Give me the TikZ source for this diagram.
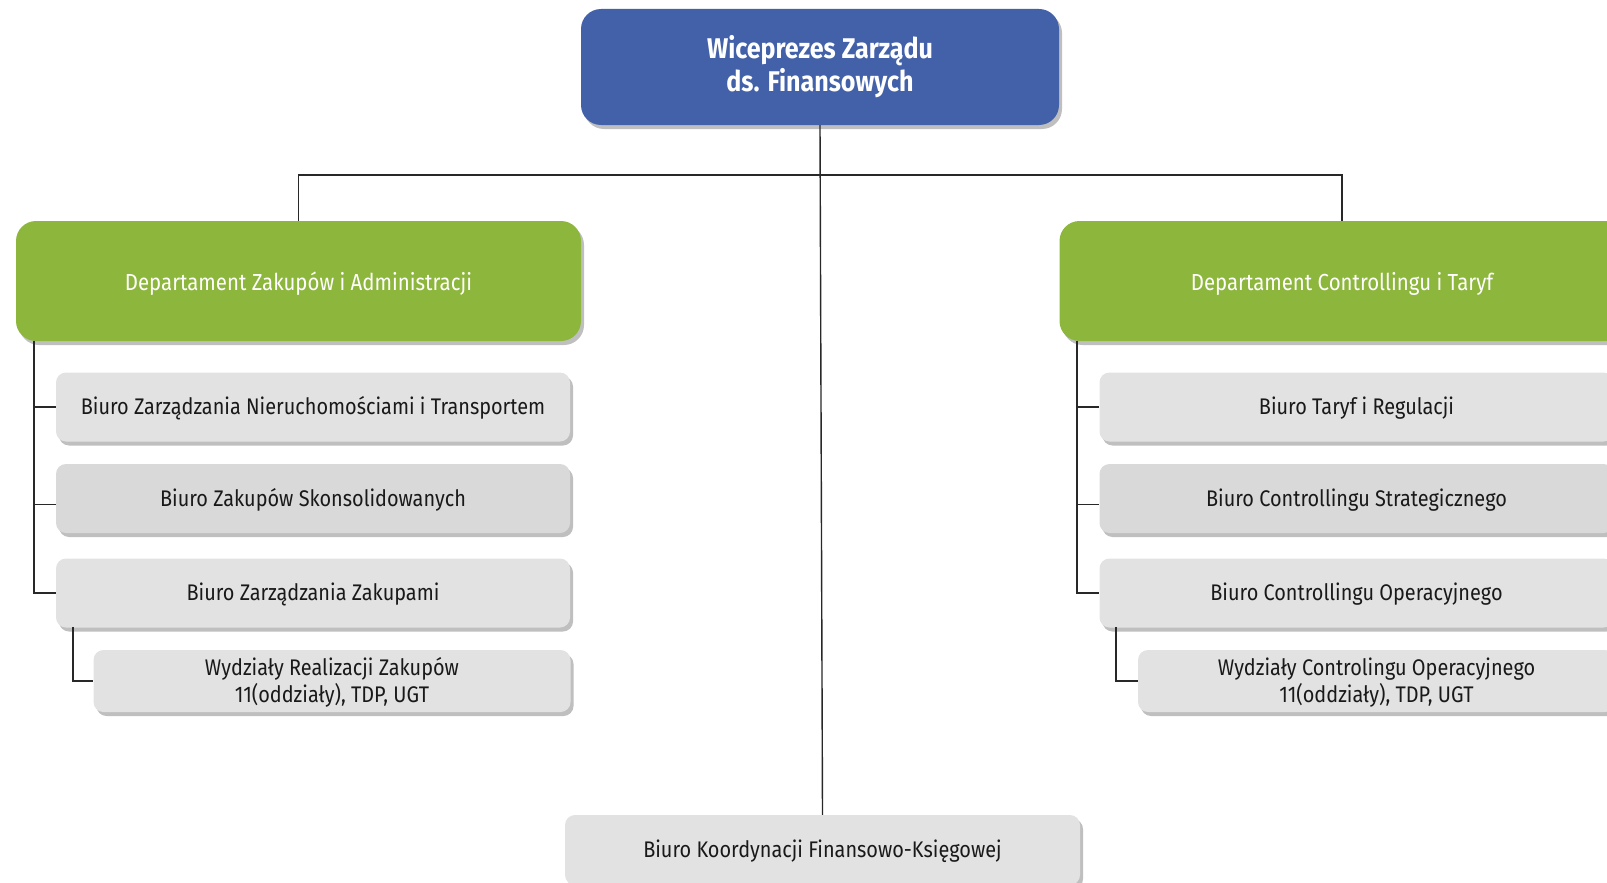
\documentclass[tikz,border=0pt]{standalone}
\usepackage{fontspec}
\setmainfont{Fira Sans}[FakeStretch=0.88]
\usetikzlibrary{shadows}
\definecolor{topblue}{RGB}{67,97,169}
\definecolor{deptgreen}{RGB}{141,182,60}
\definecolor{boxgray}{RGB}{226,226,226}
\definecolor{boxgraydark}{RGB}{217,217,217}
\definecolor{linec}{RGB}{40,40,40}
\definecolor{txt}{RGB}{25,25,25}
\newcommand\lowtxt[2]{\raisebox{-#1}[\height][\depth]{\begin{tabular}{@{}c@{}}#2\end{tabular}}}
\begin{document}
\begin{tikzpicture}[x=1pt,y=-1pt,
  shade/.style={drop shadow={shadow xshift=3pt,shadow yshift=-4pt,fill=black,opacity=0.25}},
  topbox/.style={shade,fill=topblue,rounded corners=20pt,minimum width=478pt,minimum height=116pt,
    text=white,align=center,inner sep=0pt,font=\fontsize{28.5}{33}\selectfont\bfseries},
  deptbox/.style={shade,fill=deptgreen,rounded corners=20pt,minimum width=565pt,minimum height=120pt,
    text=white,align=center,inner sep=0pt,font=\fontsize{23.2}{26}\selectfont},
  unitbox/.style={shade,fill=boxgray,rounded corners=10pt,minimum width=514pt,minimum height=69pt,
    text=txt,align=center,inner sep=0pt,font=\fontsize{22.6}{26.5}\selectfont},
  subbox/.style={unitbox,minimum width=477pt,minimum height=62pt},
  conn/.style={draw=linec,line width=1.4pt}
]
\useasboundingbox (0,0) rectangle (1607,883);
\clip (0,0) rectangle (1607,883);

\coordinate (hl) at (298.5,175);
\coordinate (hr) at (1342,175);

\node[topbox] (top) at (820,67) {Wiceprezes Zarządu\\ds. Finansowych};
\node[deptbox] (dl) at (298.5,281) {\lowtxt{4pt}{Departament Zakupów i Administracji}};
\node[deptbox] (dr) at (1342,281) {\lowtxt{4pt}{Departament Controllingu i Taryf}};

\node[unitbox] (l1) at (313,407) {\lowtxt{2.5pt}{Biuro Zarządzania Nieruchomościami i Transportem}};
\node[unitbox,fill=boxgraydark] (l2) at (313,498.5) {\lowtxt{2.5pt}{Biuro Zakupów Skonsolidowanych}};
\node[unitbox] (l3) at (313,593) {\lowtxt{2.5pt}{Biuro Zarządzania Zakupami}};
\node[subbox] (l4) at (332,681) {\lowtxt{2.5pt}{Wydziały Realizacji Zakupów\\11(oddziały), TDP, UGT}};

\node[unitbox] (r1) at (1356.5,407) {\lowtxt{2.5pt}{Biuro Taryf i Regulacji}};
\node[unitbox,fill=boxgraydark] (r2) at (1356.5,498.5) {\lowtxt{2.5pt}{Biuro Controllingu Strategicznego}};
\node[unitbox] (r3) at (1356.5,593) {\lowtxt{2.5pt}{Biuro Controllingu Operacyjnego}};
\node[subbox] (r4) at (1376.5,681) {\lowtxt{2.5pt}{Wydziały Controlingu Operacyjnego\\11(oddziały), TDP, UGT}};

\node[unitbox,minimum width=515pt,minimum height=70pt] (bot) at (822.5,850) {\lowtxt{2.5pt}{Biuro Koordynacji Finansowo-Księgowej}};

% main tree
\draw[conn] (top.south) -- (bot.north);
\draw[conn] (dl.north) -- (hl) -- (hr) -- (dr.north);

% left branch
\coordinate (lt) at (34,341);
\draw[conn] (lt) |- (l3.west);
\draw[conn] (lt |- l1.west) -- (l1.west);
\draw[conn] ([yshift=-6pt]lt |- l2.west) -- ([yshift=-6pt]l2.west);
\coordinate (ls) at (73,627);
\draw[conn] (ls) |- (l4.west);

% right branch
\coordinate (rt) at (1077,341);
\draw[conn] (rt) |- (r3.west);
\draw[conn] (rt |- r1.west) -- (r1.west);
\draw[conn] ([yshift=-6pt]rt |- r2.west) -- ([yshift=-6pt]r2.west);
\coordinate (rs) at (1116,627);
\draw[conn] (rs) |- (r4.west);
\end{tikzpicture}
\end{document}
